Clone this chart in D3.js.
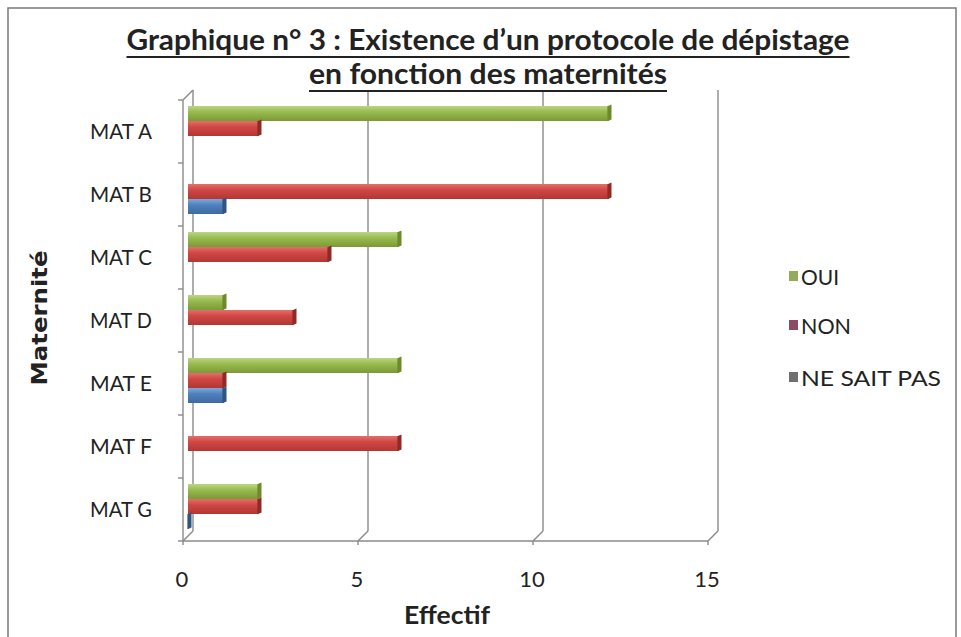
<!DOCTYPE html>
<html><head><meta charset="utf-8">
<script src="https://cdn.jsdelivr.net/npm/d3@7"></script>
<style>html,body{margin:0;padding:0;background:#fff;}svg{display:block;}</style>
</head><body>
<script>
const categories = ["MAT A","MAT B","MAT C","MAT D","MAT E","MAT F","MAT G"];
const seriesNames = ["OUI","NON","NE SAIT PAS"];
const oui = [12, null, 6, 1, 6, null, 2];
const non = [2, 12, 4, 3, 1, 6, 2];
const nsp = [null, 1, null, null, 1, null, 0];
const xTicks = [0, 5, 10, 15];
const titleLines = ["Graphique n° 3 : Existence d\u2019un protocole de dépistage", "en fonction des maternités"];

const W = 961, H = 637;
const svg = d3.select("body").append("svg").attr("width", W).attr("height", H);
const font = "Lato, 'Open Sans', sans-serif";

// frame
svg.append("rect").attr("x", 8).attr("y", 8).attr("width", 948).attr("height", 640)
  .attr("fill", "#fff").attr("stroke", "#7a7a7a").attr("stroke-width", 1.5);

const x = d3.scaleLinear().domain([0, 15]).range([183, 708]);
const y = d3.scaleBand().domain(categories).range([100, 541]);
const DX = 10, DY = -10; // depth of back wall

const colors = {
  "OUI": ["#bcd683", "#98ba4f", "#7b9a35", "#6d8a2c"],
  "NON": ["#e46f6b", "#d04744", "#b13733", "#8f2a27"],
  "NE SAIT PAS": ["#7fa8dc", "#4f81bd", "#3d6aa0", "#2f547f"]
};
const legendColors = {"OUI": "#93ab5a", "NON": "#8d4a60", "NE SAIT PAS": "#6f6f6f"};

const defs = svg.append("defs");
seriesNames.forEach((s, i) => {
  const g = defs.append("linearGradient").attr("id", "g" + i).attr("x1", 0).attr("y1", 0).attr("x2", 0).attr("y2", 1);
  g.append("stop").attr("offset", "0%").attr("stop-color", colors[s][0]);
  g.append("stop").attr("offset", "40%").attr("stop-color", colors[s][1]);
  g.append("stop").attr("offset", "100%").attr("stop-color", colors[s][2]);
});

const grid = svg.append("g").attr("stroke", "#8a8a8a").attr("stroke-width", 1.4).attr("fill", "none");
grid.append("line").attr("x1", x(0) + DX).attr("x2", x(0) + DX).attr("y1", y.range()[0] + DY).attr("y2", y.range()[1] + DY);
xTicks.forEach(t => {
  if (t > 0) grid.append("line").attr("x1", x(t) + DX).attr("x2", x(t) + DX).attr("y1", y.range()[0] + DY).attr("y2", y.range()[1] + DY);
  grid.append("line").attr("x1", x(t)).attr("x2", x(t) + DX).attr("y1", y.range()[1]).attr("y2", y.range()[1] + DY);
  grid.append("line").attr("x1", x(t)).attr("x2", x(t)).attr("y1", y.range()[1]).attr("y2", y.range()[1] + 4);
});
grid.append("line").attr("x1", x(0)).attr("x2", x(15)).attr("y1", y.range()[1]).attr("y2", y.range()[1]);
grid.append("line").attr("x1", x(0)).attr("x2", x(0)).attr("y1", y.range()[0]).attr("y2", y.range()[1]);
grid.append("line").attr("x1", x(0)).attr("x2", x(0) + DX).attr("y1", y.range()[0]).attr("y2", y.range()[0] + DY);
categories.concat([null]).forEach((c, i) => {
  const yy = c ? y(c) : y.range()[1];
  grid.append("line").attr("x1", x(0) - 5).attr("x2", x(0)).attr("y1", yy).attr("y2", yy);
});

// bars at mid depth
const mdx = DX / 2, mdy = DY / 2;
const barH = 15, barOff = 11;
const series = [oui, non, nsp];
const bars = svg.append("g");
categories.forEach((c, ci) => {
  series.forEach((arr, si) => {
    const v = arr[ci];
    if (v === null || v === undefined) return;
    const s = seriesNames[si];
    const y0 = y(c) + mdy + barOff + si * barH;
    const x0 = x(0) + mdx, x1 = x(v) + mdx;
    bars.append("rect").attr("x", x0).attr("y", y0).attr("width", Math.max(0, x1 - x0)).attr("height", barH)
      .attr("fill", "url(#g" + si + ")");
    const cw = 3.5;
    bars.append("path")
      .attr("d", `M${x1},${y0}L${x1 + cw},${y0 - 1.5}L${x1 + cw},${y0 + barH - 1.5}L${x1},${y0 + barH}Z`)
      .attr("fill", colors[s][3]);
    bars.append("line").attr("x1", x1).attr("x2", x1).attr("y1", y0).attr("y2", y0 + barH)
      .attr("stroke", colors[s][3]).attr("stroke-width", 1.2);
  });
});

// axis labels
svg.append("g").selectAll("text").data(categories).join("text")
  .attr("x", 152).attr("y", d => y(d) + y.bandwidth() / 2 - 1)
  .attr("text-anchor", "end").attr("dominant-baseline", "central")
  .attr("font-family", font).attr("font-size", 22).attr("fill", "#222")
  .attr("textLength", 62).attr("lengthAdjust", "spacingAndGlyphs")
  .text(d => d);
svg.append("g").selectAll("text").data(xTicks).join("text")
  .attr("x", d => x(d) - 1).attr("y", 578)
  .attr("text-anchor", "middle").attr("dominant-baseline", "central")
  .attr("font-family", font).attr("font-size", 22).attr("fill", "#222")
  .text(d => d);

svg.append("text").attr("x", 447).attr("y", 614).attr("text-anchor", "middle").attr("dominant-baseline", "central")
  .attr("font-family", font).attr("font-weight", "bold").attr("font-size", 25).attr("fill", "#222")
  .attr("textLength", 86).attr("lengthAdjust", "spacingAndGlyphs").text("Effectif");
svg.append("text").attr("transform", "translate(39,318) rotate(-90)").attr("text-anchor", "middle").attr("dominant-baseline", "central")
  .attr("font-family", "'DejaVu Sans', Verdana, sans-serif").attr("font-weight", "bold").attr("font-size", 22).attr("fill", "#222")
  .attr("textLength", 135).attr("lengthAdjust", "spacingAndGlyphs").text("Maternité");

// title
const tl = [{t: titleLines[0], cx: 488, y: 50, w: 723}, {t: titleLines[1], cx: 488, y: 84, w: 358}];
tl.forEach(d => {
  svg.append("text").attr("x", d.cx).attr("y", d.y).attr("text-anchor", "middle")
    .attr("font-family", font).attr("font-weight", "bold").attr("font-size", 28).attr("fill", "#222")
    .attr("textLength", d.w).attr("lengthAdjust", "spacingAndGlyphs").text(d.t);
  svg.append("line").attr("x1", d.cx - d.w / 2).attr("x2", d.cx + d.w / 2).attr("y1", d.y + 7).attr("y2", d.y + 7)
    .attr("stroke", "#222").attr("stroke-width", 1.8);
});

// legend
const leg = svg.append("g");
const legY = [276, 325, 377];
const legW = [38, 50, 140];
seriesNames.forEach((s, i) => {
  leg.append("rect").attr("x", 789).attr("y", legY[i] - 5).attr("width", 9).attr("height", 10).attr("fill", legendColors[s]);
  leg.append("text").attr("x", 801).attr("y", legY[i]).attr("dominant-baseline", "central")
    .attr("font-family", font).attr("font-size", 21).attr("fill", "#222")
    .attr("textLength", legW[i]).attr("lengthAdjust", "spacingAndGlyphs").text(s);
});
</script>
</body></html>
